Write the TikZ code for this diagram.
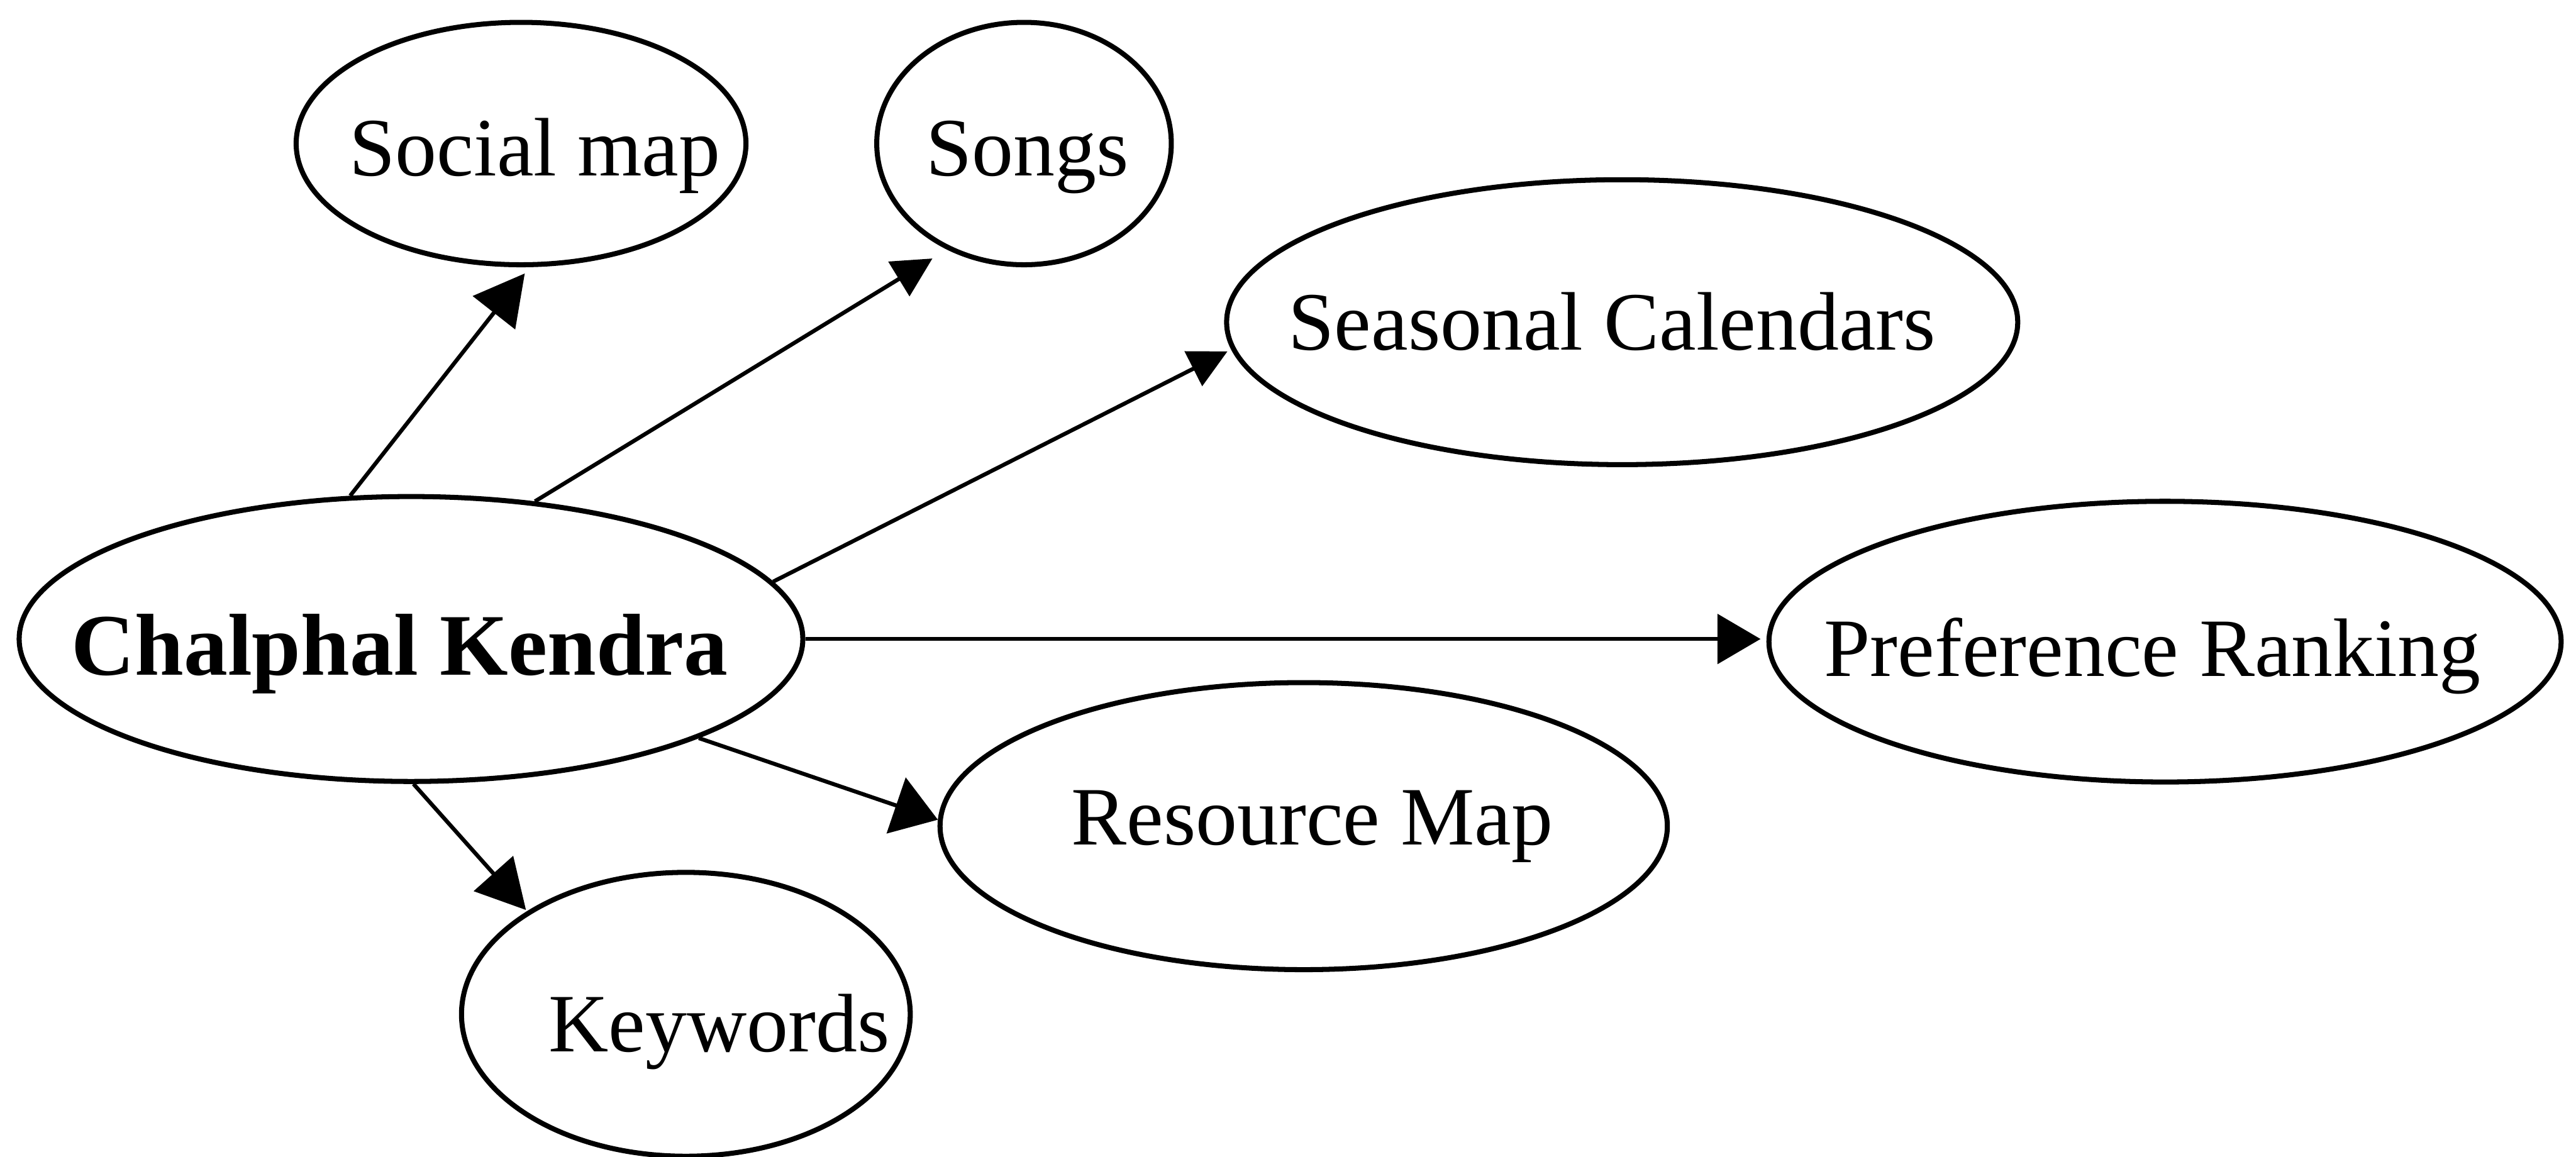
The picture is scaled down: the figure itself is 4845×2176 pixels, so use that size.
\documentclass[tikz,border=0pt]{standalone}
\usepackage{fontspec}
\setmainfont{Liberation Serif}
\usetikzlibrary{shapes.geometric,arrows.meta}

\begin{document}
\begin{tikzpicture}[x=0.1mm,y=-0.1mm,
  oval/.style={ellipse,draw,line width=0.95mm,inner sep=0pt},
  lbl/.style={anchor=base,inner sep=0pt,font=\fontsize{44.4pt}{50pt}\selectfont},
  hub/.style={anchor=base,inner sep=0pt,font=\fontsize{47pt}{54pt}\selectfont\bfseries},
  link/.style 2 args={line width=0.75mm,-{Triangle[length=#1,width=#2]}},
]
\fill[white] (0,0) rectangle (4845,2176);
\useasboundingbox (0,0) rectangle (4845,2176);

% central activity
\node[oval,minimum width=147.4mm,minimum height=53.6mm] (ck) at (773,1202) {};
\node[hub] (ck-t) at (752,1270) {Chalphal Kendra};

% outcomes
\node[oval,minimum width=84.6mm,minimum height=45.6mm] (social) at (980,270) {};
\node[lbl] (social-t) at (1006,331) {Social map};

\node[oval,minimum width=55.4mm,minimum height=45.6mm] (songs) at (1926,270) {};
\node[lbl] (songs-t) at (1932,331) {Songs};

\node[oval,minimum width=148.8mm,minimum height=53.6mm] (seasonal) at (3051,606) {};
\node[lbl] (seasonal-t) at (3032,658) {Seasonal Calendars};

\node[oval,minimum width=149.0mm,minimum height=52.8mm] (pref) at (4072,1207) {};
\node[lbl] (pref-t) at (4048,1272) {Preference Ranking};

\node[oval,minimum width=136.8mm,minimum height=54.0mm] (resource) at (2452,1554) {};
\node[lbl] (resource-t) at (2468,1589) {Resource Map};

\node[oval,minimum width=84.4mm,minimum height=53.4mm] (keywords) at (1290,1908) {};
\node[lbl] (keywords-t) at (1353,1978) {Keywords};

% connectors
\draw[link={9.4mm}{10mm},shorten >=1.5mm] (ck.113.7) -- (social.-86.1);
\draw[link={7.4mm}{7.5mm},shorten >=3.2mm] (ck.48.9) -- (songs.-126.5);
\draw[link={7.2mm}{7.2mm},shorten >=0.8mm] (ck.9.77) -- (seasonal.-176.9);
\draw[link={8.1mm}{9.3mm},shorten >=1.1mm] (ck.0.93) -- (ck.0.93 -| pref.west);
\draw[link={8.3mm}{11mm}] (ck.-19.8) -- (resource.179.75);
\draw[link={9.2mm}{9.8mm},shorten >=0.3mm] (ck.-89.2) -- (keywords.147.6);
\end{tikzpicture}
\end{document}
